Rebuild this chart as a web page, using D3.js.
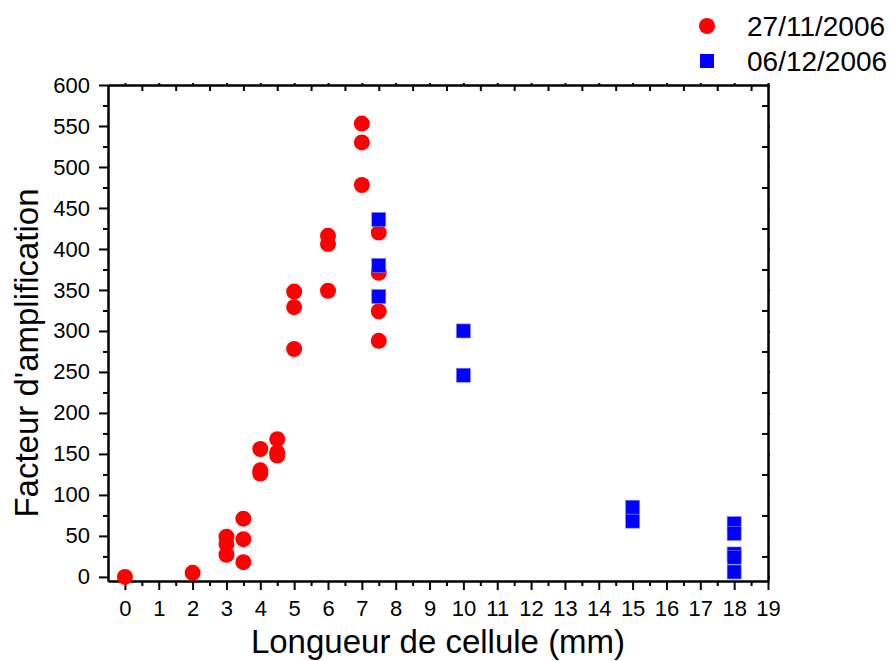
<!DOCTYPE html>
<html>
<head>
<meta charset="utf-8">
<script src="https://cdn.jsdelivr.net/npm/d3@7"></script>
<style>
  html, body { margin: 0; padding: 0; background: #fff; }
  svg { display: block; font-family: "Liberation Sans", Arial, sans-serif; }
</style>
</head>
<body>
<svg id="chart" width="891" height="661"></svg>
<script>
// Amplification factor vs cell length, two measurement dates
const seriesNames = ["27/11/2006", "06/12/2006"];

// 27/11/2006 (red circles)
const lengthA = [0, 2, 3, 3, 3, 3.5, 3.5, 3.5, 4, 4, 4, 4.5, 4.5, 4.5,
                 5, 5, 5, 6, 6, 6, 7, 7, 7, 7.5, 7.5, 7.5, 7.5];
const gainA   = [0, 5, 49, 40, 27, 71, 46, 18, 156, 130, 126, 168, 152, 148,
                 348, 329, 278, 416, 406, 349, 553, 530, 478, 420, 371, 324, 288];

// 06/12/2006 (blue squares)
const lengthB = [7.5, 7.5, 7.5, 10, 10, 15, 15, 18, 18, 18, 18, 18];
const gainB   = [436, 380, 342, 300, 246, 85, 68, 65, 53, 28, 24, 6];

const xTicks = d3.range(0, 20);
const yTicks = d3.range(0, 601, 50);

const svg = d3.select("#chart");
const plotLeft = 108, plotRight = 768, plotTop = 85, plotBottom = 581;

const x = d3.scaleLinear().domain([-0.5, 19]).range([plotLeft, plotRight]);
const y = d3.scaleLinear().domain([-5, 600]).range([plotBottom, plotTop]);

function styleAxis(g) {
  g.select(".domain").attr("stroke", "#000").attr("stroke-width", 2);
  g.selectAll(".tick line").attr("stroke", "#000").attr("stroke-width", 2);
  g.selectAll(".tick text").attr("fill", "#000")
    .style("font-size", "22px").style("font-family", '"Liberation Sans", Arial, sans-serif');
}

// Bottom axis: major ticks with labels, minor ticks at half units
svg.append("g").attr("transform", `translate(0,${plotBottom})`)
  .call(d3.axisBottom(x).tickValues(d3.range(0.5, 19, 1)).tickSize(5).tickSizeOuter(0).tickFormat(""))
  .call(styleAxis);
svg.append("g").attr("transform", `translate(0,${plotBottom})`)
  .call(d3.axisBottom(x).tickValues(xTicks).tickSize(9).tickSizeOuter(0).tickPadding(10).tickFormat(d3.format("d")))
  .call(styleAxis);

// Left axis
svg.append("g").attr("transform", `translate(${plotLeft},0)`)
  .call(d3.axisLeft(y).tickValues(d3.range(25, 600, 50)).tickSize(5).tickSizeOuter(0).tickFormat(""))
  .call(styleAxis);
svg.append("g").attr("transform", `translate(${plotLeft},0)`)
  .call(d3.axisLeft(y).tickValues(yTicks).tickSize(9).tickSizeOuter(0).tickPadding(9).tickFormat(d3.format("d")))
  .call(styleAxis);

// Top axis: inward ticks at half units, tiny marks at integers
svg.append("g").attr("transform", `translate(0,${plotTop})`)
  .call(d3.axisTop(x).tickValues(d3.range(0.5, 19, 1)).tickSize(-6).tickSizeOuter(0).tickFormat(""))
  .call(styleAxis);
svg.append("g").attr("transform", `translate(0,${plotTop})`)
  .call(d3.axisTop(x).tickValues(xTicks).tickSize(2).tickSizeOuter(0).tickFormat(""))
  .call(styleAxis);

// Right axis: inward ticks offset by half a step
svg.append("g").attr("transform", `translate(${plotRight},0)`)
  .call(d3.axisRight(y).tickValues(d3.range(25, 600, 50)).tickSize(-6).tickSizeOuter(0).tickFormat(""))
  .call(styleAxis);
svg.append("g").attr("transform", `translate(${plotRight},0)`)
  .call(d3.axisRight(y).tickValues(yTicks).tickSize(2).tickSizeOuter(0).tickFormat(""))
  .call(styleAxis);

// Series A: red circles
svg.append("g").selectAll("circle")
  .data(d3.zip(lengthA, gainA))
  .join("circle")
  .attr("cx", d => x(d[0]))
  .attr("cy", d => y(d[1]))
  .attr("r", 8)
  .attr("fill", "#ff0000");

// Series B: blue squares, drawn above the circles
const sq = 14;
svg.append("g").selectAll("rect")
  .data(d3.zip(lengthB, gainB))
  .join("rect")
  .attr("x", d => x(d[0]) - sq / 2)
  .attr("y", d => y(d[1]) - sq / 2)
  .attr("width", sq)
  .attr("height", sq)
  .attr("fill", "#0000ff")
  .attr("stroke", "#7f7fff")
  .attr("stroke-width", 0.6);

// Axis titles
svg.append("text")
  .attr("x", (plotLeft + plotRight) / 2)
  .attr("y", 653)
  .attr("text-anchor", "middle")
  .style("font-size", "33px")
  .text("Longueur de cellule (mm)");

svg.append("text")
  .attr("transform", `translate(38,${(plotTop + plotBottom) / 2 + 20}) rotate(-90)`)
  .attr("text-anchor", "middle")
  .style("font-size", "33px")
  .text("Facteur d'amplification");

// Legend
const legend = svg.append("g");
legend.append("circle").attr("cx", 707).attr("cy", 26).attr("r", 8).attr("fill", "#ff0000");
legend.append("rect").attr("x", 707 - sq / 2).attr("y", 61 - sq / 2)
  .attr("width", sq).attr("height", sq).attr("fill", "#0000ff");
legend.selectAll("text")
  .data(seriesNames)
  .join("text")
  .attr("x", 747)
  .attr("y", (d, i) => 36 + i * 34.5)
  .style("font-size", "28px")
  .text(d => d);
</script>
</body>
</html>
